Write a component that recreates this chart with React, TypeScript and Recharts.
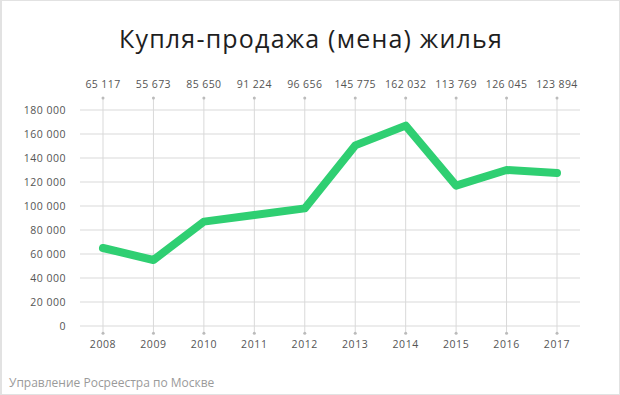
import React from 'react';
import { LineChart, Line, XAxis, YAxis, CartesianGrid, ReferenceLine, ReferenceDot } from 'recharts';

const years = ['2008', '2009', '2010', '2011', '2012', '2013', '2014', '2015', '2016', '2017'];
const lineValues = [65000, 55000, 87000, 92500, 98000, 150500, 167000, 117000, 130000, 127500];
const topLabels = ['65 117', '55 673', '85 650', '91 224', '96 656', '145 775', '162 032', '113 769', '126 045', '123 894'];
const yTicks = [0, 20000, 40000, 60000, 80000, 100000, 120000, 140000, 160000, 180000];
const title = 'Купля-продажа (мена) жилья';
const source = 'Управление Росреестра по Москве';

const data = years.map((y, i) => ({ year: y, value: lineValues[i], label: topLabels[i] }));

const FONT = '"Open Sans", "DejaVu Sans", sans-serif';
const GRID = '#d9d9d9';
const TICK = '#555';

const fmt = (v: number) => {
  if (v === 0) return '0';
  const s = String(v);
  return s.slice(0, s.length - 3) + ' ' + s.slice(-3);
};

const TopTick = (props: any) => {
  const { x, y, payload, index } = props;
  return (
    <text x={x} y={y} textAnchor="middle" fill={TICK} fontSize={10.5} fontFamily={FONT} letterSpacing={0.4} dy={-4}>
      {topLabels[index] ?? payload.value}
    </text>
  );
};

const BottomTick = (props: any) => {
  const { x, y, payload } = props;
  return (
    <text x={x} y={y} textAnchor="middle" fill={TICK} fontSize={10.5} fontFamily={FONT} letterSpacing={0.6} dy={10}>
      {payload.value}
    </text>
  );
};

const LeftTick = (props: any) => {
  const { x, y, payload } = props;
  return (
    <text x={x} y={y} textAnchor="end" fill={TICK} fontSize={10.5} fontFamily={FONT} letterSpacing={0.5} dy={4}>
      {fmt(payload.value)}
    </text>
  );
};

export default function App() {
  return (
    <div
      style={{
        position: 'absolute',
        left: 0,
        top: 0,
        width: 620,
        height: 395,
        background: '#fff',
        boxSizing: 'border-box',
        border: '1px solid #e2e2e2',
        borderLeftWidth: 2,
        fontFamily: FONT,
      }}
    >
      <div
        style={{
          position: 'absolute',
          left: 0,
          top: 20,
          width: 618,
          textAlign: 'center',
          fontSize: 25,
          letterSpacing: 1.2,
          color: '#1e1e1e',
          fontFamily: FONT,
          lineHeight: '34px',
        }}
      >
        {title}
      </div>
      <div style={{ position: 'absolute', left: -2, top: -1 }}>
        <LineChart width={620} height={395} data={data} margin={{ top: 70, right: 40, bottom: 39, left: 0 }}>
          <CartesianGrid vertical={false} stroke={GRID} strokeWidth={1} />
          <XAxis
            xAxisId="top"
            orientation="top"
            dataKey="year"
            height={40}
            padding={{ left: 23, right: 23 }}
            axisLine={false}
            tickLine={false}
            tick={<TopTick />}
            tickMargin={12}
            interval={0}
          />
          <XAxis
            dataKey="year"
            height={30}
            padding={{ left: 23, right: 23 }}
            axisLine={false}
            tickLine={false}
            tick={<BottomTick />}
            tickMargin={6}
            interval={0}
          />
          <YAxis
            domain={[0, 180000]}
            ticks={yTicks}
            width={80}
            axisLine={false}
            tickLine={false}
            tickMargin={8}
            tick={<LeftTick />}
            interval={0}
          />
          {years.map((yr) => (
            <ReferenceLine
              key={'v' + yr}
              segment={[{ x: yr, y: -6000 }, { x: yr, y: 190000 }]}
              stroke={GRID}
              strokeWidth={1}
              ifOverflow="visible"
            />
          ))}
          {years.map((yr) => (
            <ReferenceDot key={'dt' + yr} x={yr} y={190000} r={1.5} fill="#bbb" stroke="none" ifOverflow="visible" />
          ))}
          {years.map((yr) => (
            <ReferenceDot key={'db' + yr} x={yr} y={-6000} r={1.5} fill="#bbb" stroke="none" ifOverflow="visible" />
          ))}
          <Line
            type="linear"
            dataKey="value"
            stroke="#2fcf72"
            strokeWidth={8}
            strokeLinejoin="round"
            strokeLinecap="round"
            dot={false}
            activeDot={false}
            isAnimationActive={false}
          />
        </LineChart>
      </div>
      <div
        style={{
          position: 'absolute',
          left: 7,
          top: 373,
          fontSize: 12,
          color: '#9a9a9a',
          fontFamily: FONT,
        }}
      >
        {source}
      </div>
    </div>
  );
}
